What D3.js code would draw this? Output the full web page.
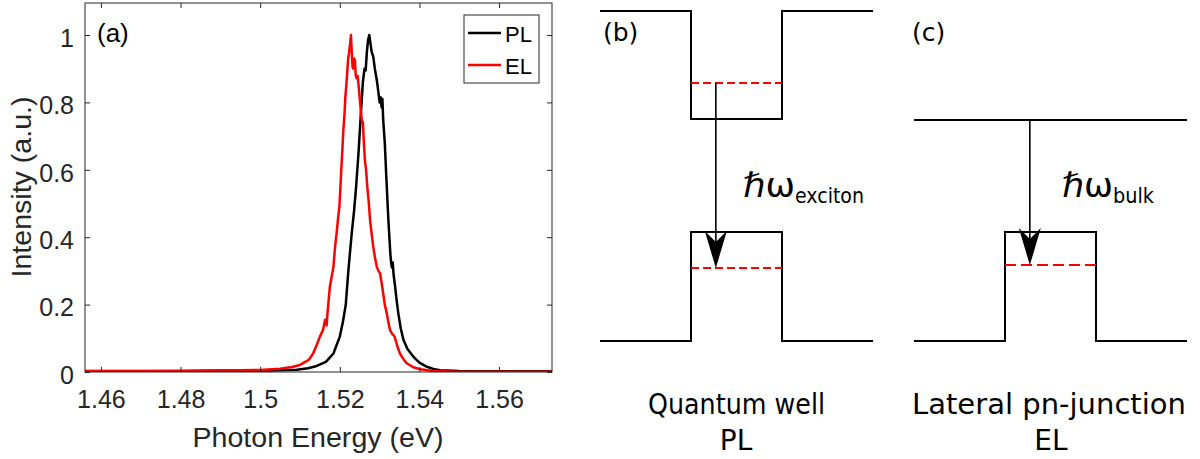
<!DOCTYPE html>
<html>
<head>
<meta charset="utf-8">
<script src="https://cdn.jsdelivr.net/npm/d3@7"></script>
<style>
  html, body { margin: 0; padding: 0; background: #fff; }
  svg { display: block; }
</style>
</head>
<body>
<script>
// ---------- Panel (a) data ----------
const plEnergy = [1.4560,1.4700,1.4800,1.4900,1.5000,1.5050,1.5092,1.5120,1.5142,1.5165,1.5184,1.5200,1.5208,1.5215,1.5221,1.5226,1.5230,1.5236,1.5241,1.5247,1.5253,1.5258,1.5262,1.5265,1.5268,1.5271,1.5274,1.5277,1.5280,1.5284,1.5288,1.5293,1.5297,1.5300,1.5303,1.5305,1.5307,1.5309,1.5313,1.5316,1.5322,1.5327,1.5329,1.5331,1.5333,1.5335,1.5339,1.5343,1.5347,1.5353,1.5360,1.5370,1.5385,1.5400,1.5418,1.5435,1.5452,1.5500,1.5600,1.5733];
const plIntensity = [0.003,0.003,0.003,0.004,0.004,0.005,0.007,0.011,0.018,0.030,0.055,0.105,0.150,0.200,0.293,0.360,0.412,0.480,0.550,0.650,0.768,0.860,0.900,0.895,0.950,0.985,1.000,0.975,0.950,0.936,0.900,0.866,0.830,0.800,0.815,0.785,0.810,0.748,0.680,0.600,0.451,0.350,0.323,0.310,0.325,0.290,0.253,0.210,0.174,0.130,0.095,0.068,0.045,0.028,0.016,0.009,0.005,0.003,0.002,0.002];

const elEnergy = [1.4560,1.4700,1.4800,1.4900,1.4950,1.5000,1.5050,1.5080,1.5100,1.5122,1.5133,1.5142,1.5150,1.5158,1.5163,1.5165,1.5167,1.5169,1.5175,1.5180,1.5184,1.5188,1.5192,1.5196,1.5199,1.5202,1.5205,1.5209,1.5212,1.5214,1.5217,1.5219,1.5221,1.5223,1.5226,1.5228,1.5230,1.5232,1.5234,1.5236,1.5238,1.5240,1.5242,1.5245,1.5248,1.5251,1.5254,1.5256,1.5258,1.5260,1.5263,1.5266,1.5269,1.5273,1.5276,1.5280,1.5284,1.5289,1.5293,1.5297,1.5301,1.5305,1.5309,1.5313,1.5318,1.5322,1.5326,1.5332,1.5336,1.5339,1.5345,1.5351,1.5360,1.5368,1.5385,1.5402,1.5435,1.5500,1.5733];
const elIntensity = [0.002,0.002,0.003,0.005,0.005,0.006,0.010,0.015,0.021,0.036,0.055,0.080,0.105,0.125,0.155,0.150,0.138,0.174,0.253,0.285,0.312,0.370,0.412,0.460,0.491,0.560,0.629,0.718,0.770,0.817,0.860,0.896,0.930,0.946,0.975,1.000,0.950,0.905,0.900,0.930,0.925,0.880,0.872,0.878,0.840,0.800,0.760,0.740,0.742,0.690,0.629,0.600,0.550,0.500,0.451,0.410,0.372,0.335,0.312,0.300,0.293,0.265,0.233,0.200,0.174,0.148,0.125,0.112,0.108,0.100,0.075,0.055,0.038,0.026,0.014,0.008,0.003,0.001,0.001];

const xTickValues = [1.46,1.48,1.50,1.52,1.54,1.56];
const xTickLabels = ["1.46","1.48","1.5","1.52","1.54","1.56"];
const yTickValues = [0,0.2,0.4,0.6,0.8,1];
const yTickLabels = ["0","0.2","0.4","0.6","0.8","1"];
const seriesNames = ["PL","EL"];
const seriesColors = ["#000000","#ff0000"];

// ---------- Panels (b),(c) schematic levels (arbitrary energy units) ----------
// x positions in thirds of each panel: 0..1 barrier, 1..2 well, 2..3 barrier
const qwCB = [[0,10],[1,10],[1,6.73],[2,6.73],[2,10],[3,10]];
const qwVB = [[0,0],[1,0],[1,3.30],[2,3.30],[2,0],[3,0]];
const qwElectron = 7.82;
const qwHole = 2.21;
const pnCB = [[0,6.70],[3,6.70]];
const pnVB = [[0,0],[1,0],[1,3.30],[2,3.30],[2,0],[3,0]];
const pnHole = 2.30;

const W = 1200, H = 459;
const svg = d3.select("body").append("svg").attr("width", W).attr("height", H);

const fontA = "'Liberation Sans', Arial, sans-serif";
const fontB = "'DejaVu Sans', Verdana, sans-serif";
const axisColor = "#262626";

// ---------- Panel (a) ----------
const x = d3.scaleLinear().domain([1.456, 1.5733]).range([85, 552]);
const y = d3.scaleLinear().domain([0, 1.095]).range([372, 3]);

const gA = svg.append("g");

svg.append("clipPath").attr("id","clipA")
  .append("rect").attr("x",85).attr("y",3).attr("width",467).attr("height",369);

const line = d3.line().x(d => x(d[0])).y(d => y(d[1]));
const plData = plEnergy.map((e,i) => [e, plIntensity[i]]);
const elData = elEnergy.map((e,i) => [e, elIntensity[i]]);

gA.append("g").attr("clip-path","url(#clipA)")
  .selectAll("path").data([plData, elData]).join("path")
  .attr("d", line).attr("fill","none")
  .attr("stroke", (d,i) => seriesColors[i])
  .attr("stroke-width", 2.5)
  .attr("stroke-linejoin","round");

function styleAxis(g, showLabels) {
  g.select(".domain").remove();
  g.selectAll(".tick line").attr("stroke", axisColor).attr("stroke-width", 1);
  g.selectAll(".tick text").attr("fill", axisColor)
    .style("font-family", fontA).style("font-size", "25px");
  if (!showLabels) g.selectAll(".tick text").remove();
}

const xb = gA.append("g").attr("transform","translate(0,372)")
  .call(d3.axisBottom(x).tickValues(xTickValues).tickSize(-5).tickPadding(18)
        .tickFormat((d,i) => xTickLabels[i]));
styleAxis(xb, true);
const xt = gA.append("g").attr("transform","translate(0,3)")
  .call(d3.axisTop(x).tickValues(xTickValues).tickSize(-5));
styleAxis(xt, false);
const yl = gA.append("g").attr("transform","translate(85,0)")
  .call(d3.axisLeft(y).tickValues(yTickValues).tickSize(-5).tickPadding(11)
        .tickFormat((d,i) => yTickLabels[i]));
styleAxis(yl, true);
yl.selectAll(".tick text").attr("dy","0.45em");
const yr = gA.append("g").attr("transform","translate(552,0)")
  .call(d3.axisRight(y).tickValues(yTickValues).tickSize(-5));
styleAxis(yr, false);

gA.append("rect").attr("x",85).attr("y",3).attr("width",467).attr("height",369)
  .attr("fill","none").attr("stroke",axisColor).attr("stroke-width",1);

gA.append("text").attr("x", 318).attr("y", 447).attr("text-anchor","middle")
  .attr("fill", axisColor).style("font-family", fontA).style("font-size","27px")
  .attr("textLength", 251).attr("lengthAdjust","spacingAndGlyphs")
  .text("Photon Energy (eV)");
gA.append("text").attr("transform","translate(31,187) rotate(-90)")
  .attr("text-anchor","middle")
  .attr("fill", axisColor).style("font-family", fontA).style("font-size","27px")
  .attr("textLength", 181).attr("lengthAdjust","spacingAndGlyphs")
  .text("Intensity (a.u.)");
gA.append("text").attr("x", 97).attr("y", 42)
  .attr("fill", "#000").style("font-family", fontA).style("font-size","26px")
  .text("(a)");

// legend
const leg = gA.append("g");
leg.append("rect").attr("x",464).attr("y",15).attr("width",75).attr("height",68)
  .attr("fill","#fff").attr("stroke",axisColor).attr("stroke-width",1);
seriesNames.forEach((name,i) => {
  const yy = 33 + i*32;
  leg.append("line").attr("x1",468).attr("x2",501).attr("y1",yy).attr("y2",yy)
    .attr("stroke",seriesColors[i]).attr("stroke-width",2.5);
  leg.append("text").attr("x",505).attr("y",yy+9)
    .attr("fill","#000").style("font-family",fontA).style("font-size","22px")
    .text(name);
});

// ---------- Panels (b) and (c) ----------
const yE = d3.scaleLinear().domain([0, 10]).range([341, 11]);
const xB = d3.scaleLinear().domain([0, 3]).range([600, 873]);
const xC = d3.scaleLinear().domain([0, 3]).range([914, 1187]);
const band = xs => d3.line().x(d => xs(d[0])).y(d => yE(d[1]));

function arrow(g, xs, xPos, yFrom, yTo) {
  const px = xs(xPos), y0 = yE(yFrom), y1 = yE(yTo);
  g.append("line").attr("x1",px).attr("x2",px).attr("y1",y0).attr("y2",y1-20)
    .attr("stroke","#000").attr("stroke-width",1.6);
  g.append("path")
    .attr("d", `M${px},${y1} L${px-11},${y1-37} L${px},${y1-26} L${px+11},${y1-37} Z`)
    .attr("fill","#000");
}
function dashed(g, xs, e, dash) {
  g.append("line").attr("x1",xs(1)).attr("x2",xs(2)).attr("y1",yE(e)).attr("y2",yE(e))
    .attr("stroke","#ff0000").attr("stroke-width",2).attr("stroke-dasharray",dash);
}

const gB = svg.append("g");
[qwCB, qwVB].forEach(d => gB.append("path").attr("d", band(xB)(d))
  .attr("fill","none").attr("stroke","#000").attr("stroke-width",2).attr("stroke-linejoin","miter"));
dashed(gB, xB, qwElectron, "8,4");
dashed(gB, xB, qwHole, "8,4");
arrow(gB, xB, 1.273, qwElectron, qwHole);
gB.append("text").attr("x",603).attr("y",41).style("font-family",fontB).style("font-size","25px")
  .attr("fill","#000").text("(b)");
const tB = gB.append("text").attr("x",743).attr("y",197).style("font-family",fontB).attr("fill","#000");
tB.append("tspan").style("font-size","34px").attr("textLength",52).attr("lengthAdjust","spacingAndGlyphs").text("ℏω");
tB.append("tspan").attr("x",795).attr("y",203).style("font-size","22px")
  .attr("textLength",69).attr("lengthAdjust","spacingAndGlyphs").text("exciton");
gB.append("text").attr("x",648).attr("y",414).style("font-family",fontB).style("font-size","28px")
  .attr("fill","#000").attr("textLength",177).attr("lengthAdjust","spacingAndGlyphs").text("Quantum well");
gB.append("text").attr("x",736).attr("y",450).attr("text-anchor","middle").style("font-family",fontB).style("font-size","28px")
  .attr("fill","#000").text("PL");

const gC = svg.append("g");
[pnCB, pnVB].forEach(d => gC.append("path").attr("d", band(xC)(d))
  .attr("fill","none").attr("stroke","#000").attr("stroke-width",2).attr("stroke-linejoin","miter"));
dashed(gC, xC, pnHole, "11,5");
arrow(gC, xC, 1.273, 6.70, pnHole);
gC.append("text").attr("x",912).attr("y",41).style("font-family",fontB).style("font-size","25px")
  .attr("fill","#000").text("(c)");
const tC = gC.append("text").attr("x",1062).attr("y",197).style("font-family",fontB).attr("fill","#000");
tC.append("tspan").style("font-size","34px").attr("textLength",51).attr("lengthAdjust","spacingAndGlyphs").text("ℏω");
tC.append("tspan").attr("x",1113).attr("y",203).style("font-size","22px")
  .attr("textLength",41).attr("lengthAdjust","spacingAndGlyphs").text("bulk");
gC.append("text").attr("x",912).attr("y",414).style("font-family",fontB).style("font-size","28px")
  .attr("fill","#000").attr("textLength",274).attr("lengthAdjust","spacingAndGlyphs").text("Lateral pn-junction");
gC.append("text").attr("x",1051).attr("y",450).attr("text-anchor","middle").style("font-family",fontB).style("font-size","28px")
  .attr("fill","#000").text("EL");
</script>
</body>
</html>
